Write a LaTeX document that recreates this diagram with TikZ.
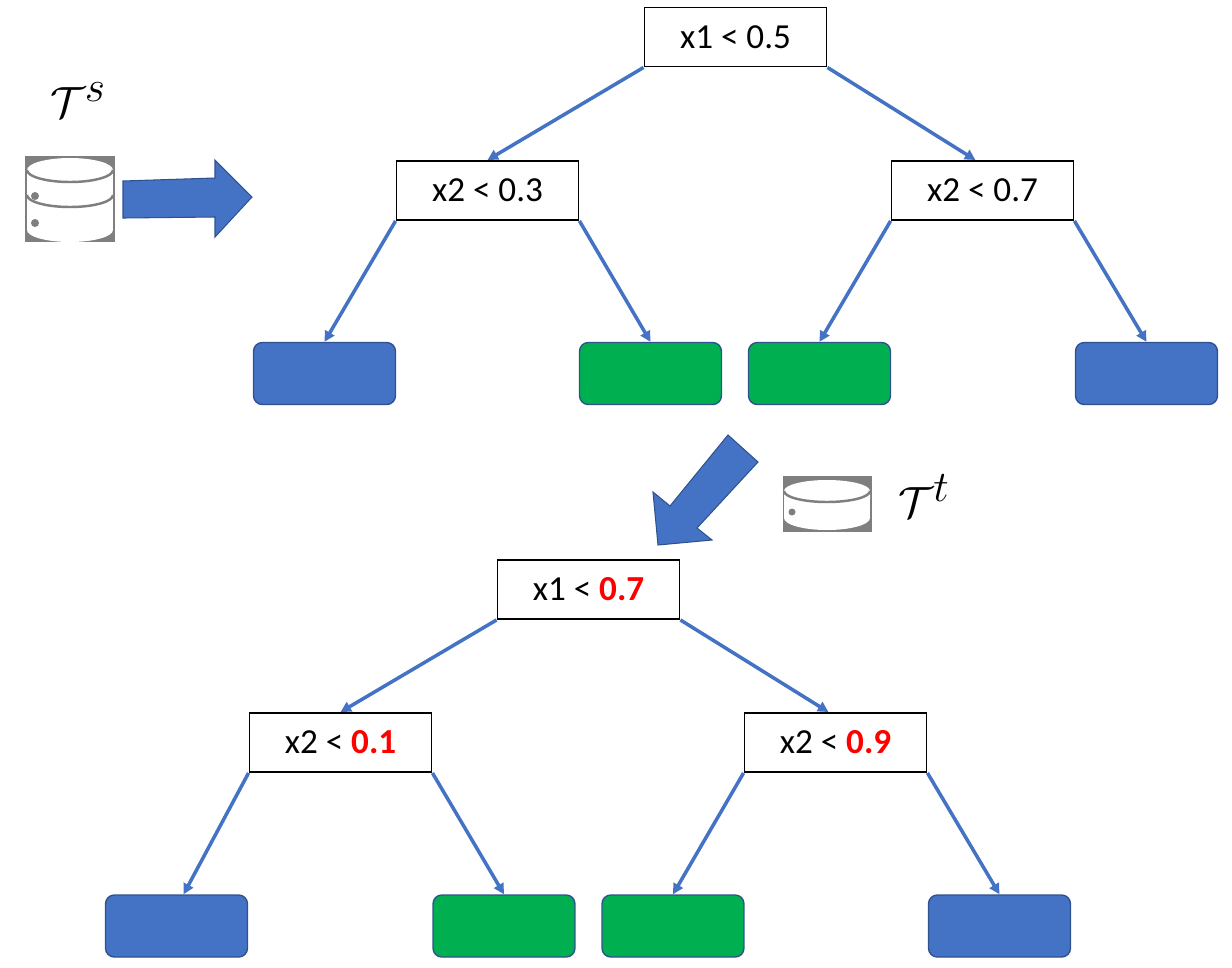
\documentclass[tikz,border=0pt]{standalone}
\usepackage{amsmath}
\usepackage{fontspec}
\setmainfont{Carlito}
\usetikzlibrary{arrows.meta}

\definecolor{edgeblue}{HTML}{4472C4}
\definecolor{leafblue}{HTML}{4472C4}
\definecolor{leafgreen}{HTML}{00B050}
\definecolor{leafline}{HTML}{2F528F}
\definecolor{icongray}{HTML}{7F7F7F}

\newcommand{\hl}[1]{\textcolor{red}{\textbf{#1}}}

\begin{document}
\begin{tikzpicture}[x=0.02cm, y=-0.02cm,
	split/.style={shape=rectangle, draw=black, line width=1.1pt, fill=white, minimum width=3.64cm, minimum height=1.18cm, inner sep=0pt, font=\fontsize{20}{24}\selectfont},
	leafb/.style={shape=rectangle, rounded corners=5pt, draw=leafline, line width=0.8pt, fill=leafblue, minimum width=2.84cm, minimum height=1.24cm},
	leafg/.style={leafb, fill=leafgreen},
	link/.style={-{Triangle[length=6pt,width=6pt]}, draw=edgeblue, line width=2pt},
	bigarrow/.style={fill=leafblue, draw=leafline, line width=0.6pt}]
	
	\useasboundingbox (0,0) rectangle (1232,968);
	
	% source tree
	\node[split] (r) at (735.5, 37)    {x1 < 0.5};
	\node[split] (a) at (487.5, 190.5) {x2 < 0.3};
	\node[split] (b) at (982.5, 190.5) {x2 < 0.7};
	\node[leafb] (a1) at (324.5, 373.5) {};
	\node[leafg] (a2) at (650.5, 373.5) {};
	\node[leafg] (b1) at (819.5, 373.5) {};
	\node[leafb] (b2) at (1146.5, 373.5) {};
	
	\draw[link] (r.south west) -- (a.north);
	\draw[link] (r.south east) -- ([xshift=-4]b.north);
	\draw[link] (a.south west) -- (a1.north);
	\draw[link] (a.south east) -- (a2.north);
	\draw[link] (b.south west) -- (b1.north);
	\draw[link] (b.south east) -- (b2.north);
	
	% target tree
	\node[split] (rt) at (588.5, 589.5) {x1 < \hl{0.7}};
	\node[split] (c) at (340.5, 742.5)  {x2 < \hl{0.1}};
	\node[split] (d) at (835.5, 742.5)  {x2 < \hl{0.9}};
	\node[leafb] (c1) at (176.5, 926) {};
	\node[leafg] (c2) at (504, 926)   {};
	\node[leafg] (d1) at (673, 926)   {};
	\node[leafb] (d2) at (999.5, 926) {};
	
	\draw[link] (rt.south west) -- (c.north);
	\draw[link] (rt.south east) -- ([xshift=-4]d.north);
	\draw[link] (c.south west) -- ([xshift=4]c1.north);
	\draw[link] (c.south east) -- (c2.north);
	\draw[link] (d.south west) -- (d1.north);
	\draw[link] (d.south east) -- (d2.north);
	
	% source data
	\node (ts) at (78, 100) {\fontsize{44}{48}\selectfont$\mathcal{T}^s$};
	\fill[icongray] (25,156) rectangle (115,242);
	\fill[white] (27,170) -- (27,230) arc[start angle=180, end angle=360, x radius=0.86cm, y radius=0.24cm] -- (113,170) -- cycle;
	\fill[white] (70,170) ellipse[x radius=0.86cm, y radius=0.24cm];
	\draw[icongray, line width=1.4pt] (27,170) arc[start angle=180, end angle=360, x radius=0.86cm, y radius=0.24cm];
	\draw[icongray, line width=1.4pt] (27,195) arc[start angle=180, end angle=360, x radius=0.86cm, y radius=0.24cm];
	\fill[icongray] (35,196) circle[radius=0.08cm];
	\fill[icongray] (35,223) circle[radius=0.08cm];
	\draw[bigarrow] (123,181) -- (215,178) -- (215,160) -- (252,197) -- (215,237) -- (215,217) -- (123,218) -- cycle;
	
	% target data
	\draw[bigarrow] (728,435) -- (670,506) -- (653,492) -- (658,545) -- (712,540) -- (697,528) -- (758,462) -- cycle;
	\fill[icongray] (783,476) rectangle (872,532);
	\fill[white] (784,491) -- (784,518) arc[start angle=180, end angle=360, x radius=0.86cm, y radius=0.24cm] -- (870,491) -- cycle;
	\fill[white] (827,491) ellipse[x radius=0.86cm, y radius=0.22cm];
	\draw[icongray, line width=1.4pt] (784,491) arc[start angle=180, end angle=360, x radius=0.86cm, y radius=0.22cm];
	\fill[icongray] (792,512) circle[radius=0.07cm];
	\node (tt) at (924, 496) {\fontsize{44}{48}\selectfont$\mathcal{T}^t$};
	
\end{tikzpicture}
\end{document}
